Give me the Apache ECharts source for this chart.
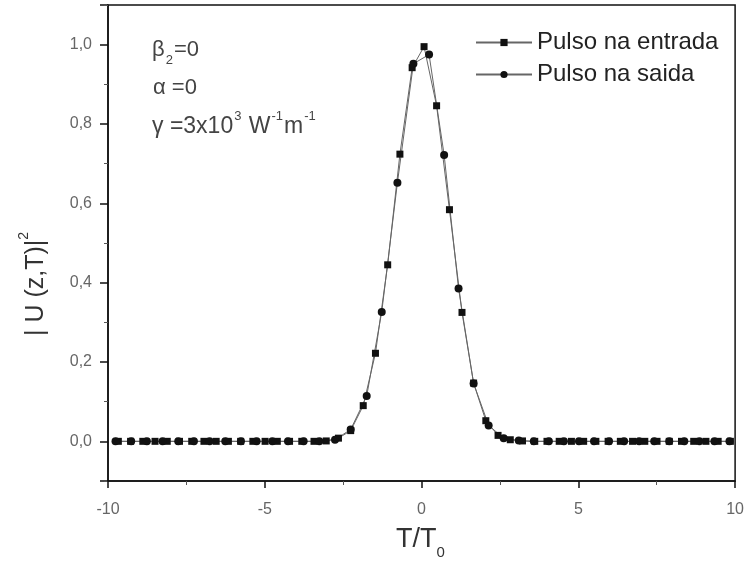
<!DOCTYPE html>
<html>
<head>
<meta charset="utf-8">
<script src="https://cdn.jsdelivr.net/npm/echarts@6/dist/echarts.min.js"></script>
<style>
html,body{margin:0;padding:0;background:#fff;}
#chart{width:747px;height:567px;}
</style>
</head>
<body>
<div id="chart"></div>
<script>
// Pulse at the input (squares)
var entradaT = [-9.67,-9.28,-8.89,-8.50,-8.11,-7.72,-7.33,-6.94,-6.55,-6.16,-5.77,-5.38,-4.99,-4.60,-4.21,-3.82,-3.43,-3.04,
  -2.65,-2.26,-1.86,-1.47,-1.08,-0.69,-0.30,0.08,0.48,0.89,1.29,1.66,2.05,2.44,2.83,3.22,
  3.61,4.00,4.39,4.78,5.17,5.56,5.95,6.34,6.73,7.12,7.51,7.90,8.29,8.68,9.07,9.46,9.85];
var entradaY = [0,0,0,0,0,0,0,0,0,0,0,0,0,0,0,0,0,0.001,
  0.008,0.027,0.090,0.222,0.445,0.724,0.942,0.995,0.846,0.584,0.325,0.147,0.052,0.015,0.004,0.001,
  0,0,0,0,0,0,0,0,0,0,0,0,0,0,0,0,0];
// Pulse at the output (circles)
var saidaT = [-9.76,-9.26,-8.76,-8.26,-7.76,-7.26,-6.76,-6.26,-5.76,-5.26,-4.76,-4.26,-3.76,-3.26,
  -2.76,-2.26,-1.75,-1.27,-0.77,-0.26,0.24,0.72,1.18,1.66,2.14,2.62,3.10,
  3.58,4.06,4.54,5.02,5.50,5.98,6.46,6.94,7.42,7.90,8.38,8.86,9.34,9.82];
var saidaY = [0,0,0,0,0,0,0,0,0,0,0,0,0,0,
  0.004,0.030,0.114,0.326,0.652,0.952,0.975,0.722,0.385,0.146,0.040,0.008,0.002,
  0,0,0,0,0,0,0,0,0,0,0,0,0,0];
var xTicks = {min: -10, max: 10, step: 5};
var yRange = {min: -0.1, max: 1.1};
var seriesNames = ['Pulso na entrada', 'Pulso na saida'];

function pairs(t, y) { return t.map(function (v, i) { return [v, y[i]]; }); }

var chart = echarts.init(document.getElementById('chart'), null, {renderer: 'canvas'});
var FONT = 'Liberation Sans, Arial, sans-serif';
var lineStyle = {color: '#666', width: 1};

chart.setOption({
  animation: false,
  backgroundColor: '#fff',
  grid: {left: 108, right: 9, top: 5, bottom: 86, show: true, borderColor: '#111', borderWidth: 1.5, backgroundColor: 'transparent'},
  xAxis: {
    type: 'value', min: xTicks.min, max: xTicks.max, interval: xTicks.step,
    axisLine: {show: true, onZero: false, lineStyle: {color: '#111', width: 1.5}},
    axisTick: {show: true, inside: false, length: 7, lineStyle: {color: '#111', width: 1.5}},
    minorTick: {show: true, splitNumber: 2, length: 4, lineStyle: {color: '#555', width: 1}},
    splitLine: {show: false},
    axisLabel: {color: '#666', fontSize: 16, fontFamily: FONT, margin: 21}
  },
  yAxis: [{
    // auto nice ticks at 0, 0.2, ... 1.0 (long ticks + labels)
    type: 'value', min: yRange.min, max: yRange.max, splitNumber: 6, position: 'left',
    axisLine: {show: true, onZero: false, lineStyle: {color: '#111', width: 1.5}},
    axisTick: {show: true, length: 8, lineStyle: {color: '#111', width: 1.5}},
    splitLine: {show: false},
    axisLabel: {color: '#666', fontSize: 16, fontFamily: FONT, margin: 16,
      formatter: function (v) {
        var k = Math.round(v * 10);
        if (k < 0 || k > 10 || k % 2 !== 0) return '';
        return (k / 10).toFixed(1).replace('.', ',');
      }}
  }, {
    // ticks counted from min with interval 0.2 -> odd tenths (short ticks)
    type: 'value', min: yRange.min, max: yRange.max, interval: 0.2, position: 'left', offset: 0,
    axisLine: {show: false, onZero: false},
    axisTick: {show: true, length: 4, lineStyle: {color: '#555', width: 1}},
    splitLine: {show: false},
    axisLabel: {show: false}
  }],
  legend: {
    orient: 'vertical', left: 470, top: 25,
    itemWidth: 56, itemHeight: 9, itemGap: 7,
    textStyle: {color: '#222', fontSize: 24, fontFamily: FONT, lineHeight: 25},
    data: seriesNames
  },
  series: [{
    name: seriesNames[0], type: 'line', data: pairs(entradaT, entradaY),
    symbol: 'rect', symbolSize: 7, showAllSymbol: true,
    itemStyle: {color: '#111'}, lineStyle: lineStyle, z: 3
  }, {
    name: seriesNames[1], type: 'line', data: pairs(saidaT, saidaY),
    symbol: 'circle', symbolSize: 8, showAllSymbol: true,
    itemStyle: {color: '#111'}, lineStyle: lineStyle, z: 3
  }],
  graphic: [
    {type: 'text', left: 152, top: 39, style: {
      text: '{m|β}{sub|2}{m|=0}', fill: '#444',
      rich: {m: {fontSize: 22, fontFamily: FONT, fill: '#444', lineHeight: 28, verticalAlign: 'top'},
             sub: {fontSize: 13, fontFamily: FONT, fill: '#444', lineHeight: 28, verticalAlign: 'bottom', padding: [0, 1, 0, 1]}}}},
    {type: 'text', left: 153, top: 77, style: {
      text: 'α =0', fill: '#444', font: '22px ' + FONT}},
    {type: 'text', left: 152, top: 110, style: {
      text: '{m|γ =3x10}{sup|3}{m| W}{sup|-1}{m|m}{sup|-1}', fill: '#444',
      rich: {m: {fontSize: 23, fontFamily: FONT, fill: '#444', lineHeight: 28, verticalAlign: 'bottom'},
             sup: {fontSize: 13, fontFamily: FONT, fill: '#444', lineHeight: 28, verticalAlign: 'top', padding: [0, 1, 0, 1]}}}},
    {type: 'text', left: 396, top: 526, style: {
      text: '{m|T/T}{sub|0}', fill: '#333',
      rich: {m: {fontSize: 27, fontFamily: FONT, fill: '#333', lineHeight: 34, verticalAlign: 'top'},
             sub: {fontSize: 15, fontFamily: FONT, fill: '#333', lineHeight: 34, verticalAlign: 'bottom'}}}},
    {type: 'text', x: 17, y: 336, rotation: Math.PI / 2, style: {
      text: '{m|| U (z,T)|}{sup|2}', fill: '#333',
      rich: {m: {fontSize: 25, fontFamily: FONT, fill: '#333', lineHeight: 32, verticalAlign: 'bottom'},
             sup: {fontSize: 14, fontFamily: FONT, fill: '#333', lineHeight: 32, verticalAlign: 'top'}}}}
  ]
});
</script>
</body>
</html>
